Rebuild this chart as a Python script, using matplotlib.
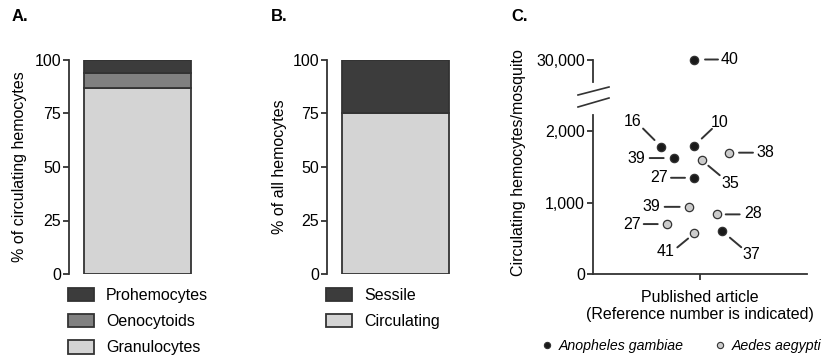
import matplotlib
matplotlib.use('Agg')
import matplotlib.pyplot as plt
from matplotlib.lines import Line2D

plt.rcParams['font.family'] = ['Liberation Sans', 'DejaVu Sans']

# panel A: composition of circulating hemocytes (%)
cell_types = ['Granulocytes', 'Oenocytoids', 'Prohemocytes']
cell_pct = [87, 7, 6]

# panel B: circulating vs sessile (%)
pool_types = ['Circulating', 'Sessile']
pool_pct = [75, 25]

# panel C: hemocytes per mosquito from published articles
ano_ref = ['40', '16', '10', '39', '27', '37']
ano_x = [0.944, 0.636, 0.944, 0.754, 0.944, 1.208]
ano_val = [30000, 1780, 1790, 1620, 1345, 600]

aed_ref = ['38', '35', '39', '28', '27', '41']
aed_x = [1.271, 1.016, 0.894, 1.156, 0.689, 0.947]
aed_val = [1695, 1590, 940, 835, 700, 570]

# leader line start, end and text centre (pixels, y down) for each label
ano_lab = [((11, 0), (24, 0), (36, 0)),
           ((-6, -7), (-18, -18), (-28, -25)),
           ((8, -7), (18, -17), (26, -23)),
           ((-10, 0), (-24, 0), (-37, 0)),
           ((-9, 0), (-23, 0), (-35, 0)),
           ((8, 6), (19, 16), (29, 23))]
aed_lab = [((10, 0), (24, 0), (36, 0)),
           ((7, 5), (18, 15), (29, 23)),
           ((-9, 0), (-24, 0), (-37, 0)),
           ((9, 0), (23, 0), (36, -1)),
           ((-9, 0), (-23, 0), (-35, 0)),
           ((-7, 4), (-17, 14), (-29, 18))]

W, H = 828, 362
FS = 11.5
dark = '#3c3c3c'
mid = '#808080'
light = '#d4d4d4'
edge = '#333333'
lw = 1.3


def box(l, t, r, b):
    return [l / W, 1 - b / H, (r - l) / W, (b - t) / H]


def style(ax):
    for s in ['top', 'right', 'bottom']:
        ax.spines[s].set_visible(False)
    ax.spines['left'].set_linewidth(lw)
    ax.spines['left'].set_color(edge)
    ax.tick_params(axis='y', length=4.3, width=lw, color=edge, pad=1.5, labelsize=FS)


def leg(ax, x):
    h, l = ax.get_legend_handles_labels()
    fig.legend(h[::-1], l[::-1], loc='upper left', bbox_to_anchor=(x / W, 1 - 287.5 / H),
               frameon=False, fontsize=FS, handlelength=1.63, handleheight=0.94,
               labelspacing=0.68, handletextpad=0.75, borderpad=0, borderaxespad=0)


fig = plt.figure(figsize=(W / 100, H / 100), dpi=100)

# ---- A ----
axA = fig.add_axes(box(69, 60, 206, 274))
bottom = 0
for name, v, c in zip(cell_types, cell_pct, [light, mid, dark]):
    axA.bar(0, v, width=1.0, bottom=bottom, color=c, edgecolor=edge, linewidth=lw, label=name)
    bottom += v
axA.set_xlim(-0.64, 0.64)
axA.set_ylim(0, 100)
axA.set_yticks([0, 25, 50, 75, 100])
axA.set_xticks([])
style(axA)
leg(axA, 68)
fig.text(20 / W, 1 - 167 / H, '% of circulating hemocytes', rotation=90,
         ha='center', va='center', fontsize=FS)
fig.text(12 / W, 1 - 16.5 / H, 'A.', fontsize=12, fontweight='bold', ha='left', va='center')

# ---- B ----
axB = fig.add_axes(box(327, 60, 464, 274))
bottom = 0
for name, v, c in zip(pool_types, pool_pct, [light, dark]):
    axB.bar(0, v, width=1.0, bottom=bottom, color=c, edgecolor=edge, linewidth=lw, label=name)
    bottom += v
axB.set_xlim(-0.64, 0.64)
axB.set_ylim(0, 100)
axB.set_yticks([0, 25, 50, 75, 100])
axB.set_xticks([])
style(axB)
leg(axB, 326)
fig.text(280 / W, 1 - 167 / H, '% of all hemocytes', rotation=90,
         ha='center', va='center', fontsize=FS)
fig.text(271 / W, 1 - 16.5 / H, 'B.', fontsize=12, fontweight='bold', ha='left', va='center')

# ---- C ----
brk = 10000
axC = fig.add_axes(box(593, 115, 807, 274.3))
axT = fig.add_axes(box(593, 59.5, 807, 82))
for ax in (axC, axT):
    style(ax)
    ax.set_xlim(0, 2)
axC.set_ylim(0, 2220)
axC.set_yticks([0, 1000, 2000])
axC.set_yticklabels(['0', '1,000', '2,000'])
axC.spines['bottom'].set_visible(True)
axC.spines['bottom'].set_linewidth(lw)
axC.spines['bottom'].set_color(edge)
axC.set_xticks([1])
axC.set_xticklabels([''])
axC.tick_params(axis='x', length=4.3, width=lw, color=edge)
axT.set_ylim(26000, 30000)
axT.set_yticks([30000])
axT.set_yticklabels(['30,000'])
axT.set_xticks([])
axT.patch.set_visible(False)

k = 0.72  # px -> pt at 100 dpi


def draw(xs, vals, refs, labs, fc):
    for x, v, r, (a, b, t) in zip(xs, vals, refs, labs):
        ax = axT if v > brk else axC
        ax.plot(x, v, 'o', ms=6, mfc=fc, mec=edge, mew=0.9, clip_on=False, zorder=3)
        ax.annotate('', xy=(x, v), xytext=(b[0] * k, -b[1] * k), textcoords='offset points',
                    annotation_clip=False,
                    arrowprops=dict(arrowstyle='-', color=edge, lw=1.4, shrinkA=0,
                                    shrinkB=(a[0] ** 2 + a[1] ** 2) ** 0.5 * k))
        ax.annotate(r, xy=(x, v), xytext=(t[0] * k, -t[1] * k), textcoords='offset points',
                    ha='center', va='center', fontsize=FS, annotation_clip=False)


draw(ano_x, ano_val, ano_ref, ano_lab, '#1a1a1a')
draw(aed_x, aed_val, aed_ref, aed_lab, '#cccccc')

# axis break marks
for y0, y1 in [(95, 87), (107, 98)]:
    fig.add_artist(Line2D([578 / W, 609 / W], [1 - y0 / H, 1 - y1 / H], color=edge, lw=1.2))

fig.text(700 / W, 1 - 306 / H, 'Published article\n(Reference number is indicated)',
         ha='center', va='center', fontsize=FS, linespacing=1.2)
fig.text(519 / W, 1 - 163 / H, 'Circulating hemocytes/mosquito', rotation=90,
         ha='center', va='center', fontsize=FS)
fig.text(511 / W, 1 - 16.5 / H, 'C.', fontsize=12, fontweight='bold', ha='left', va='center')

sp = [Line2D([], [], ls='', marker='o', ms=4.5, mfc='#1a1a1a', mec=edge, mew=0.8),
      Line2D([], [], ls='', marker='o', ms=4.5, mfc='#cccccc', mec=edge, mew=0.8)]
fig.legend(sp, ['Anopheles gambiae', 'Aedes aegypti'], loc='center left',
           bbox_to_anchor=(541 / W, 1 - 346 / H), ncol=2, frameon=False,
           prop={'size': 10.2, 'style': 'italic'}, handlelength=0.8, handletextpad=0.48,
           columnspacing=2.1, borderpad=0, borderaxespad=0)

fig.savefig('out.png', dpi=100)
